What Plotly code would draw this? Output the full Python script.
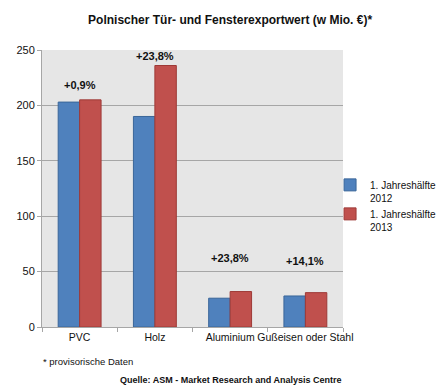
import plotly.graph_objects as go

categories = ["PVC", "Holz", "Aluminium", "Gußeisen oder Stahl"]
values_2012 = [203, 190, 26, 28]
values_2013 = [205, 236, 32, 31]
change_labels = ["+0,9%", "+23,8%", "+23,8%", "+14,1%"]
label_y = [218, 245, 62, 60]
series_names = ["1. Jahreshälfte<br>2012", "1. Jahreshälfte<br>2013"]
y_ticks = [0, 50, 100, 150, 200, 250]

blue = "#4f81bd"
red = "#c0504d"
font_main = "Liberation Sans"

fig = go.Figure()
fig.add_trace(go.Bar(x=categories, y=values_2012, name=series_names[0],
                     marker=dict(color=blue, line=dict(color="#3a6699", width=1))))
fig.add_trace(go.Bar(x=categories, y=values_2013, name=series_names[1],
                     marker=dict(color=red, line=dict(color="#9e3a37", width=1))))

for cat, txt, yy in zip(categories, change_labels, label_y):
    fig.add_annotation(x=cat, y=yy, text="<b>" + txt + "</b>", showarrow=False,
                       font=dict(size=11, color="#111111", family=font_main))

fig.add_annotation(xref="paper", yref="paper", x=-0.003, y=-0.15, xanchor="left",
                   text="* provisorische Daten", showarrow=False,
                   font=dict(size=9.5, color="#111111", family=font_main))
fig.add_annotation(xref="paper", yref="paper", x=0.625, y=-0.217, xanchor="center",
                   text="<b>Quelle: ASM - Market Research and Analysis Centre</b>", showarrow=False,
                   font=dict(size=9, color="#111111", family=font_main))

fig.update_layout(
    width=436, height=377,
    margin=dict(l=34, r=101, t=42, b=58, autoexpand=False),
    paper_bgcolor="white",
    plot_bgcolor="#e6e6e6",
    barmode="group",
    bargap=0.43,
    bargroupgap=0,
    title=dict(text="<b>Polnischer Tür- und Fensterexportwert (w Mio. €)*</b>",
               xref="paper", x=0.625, xanchor="center", y=0.968, yanchor="middle",
               font=dict(size=12, color="#111111", family=font_main)),
    font=dict(family=font_main, size=11, color="#111111"),
    legend=dict(x=0.957, y=0.56, xanchor="left", yanchor="top",
                font=dict(size=10, family=font_main, color="#111111"),
                bgcolor="rgba(0,0,0,0)", valign="top", itemwidth=30,
                tracegroupgap=6),
    showlegend=True,
)
fig.update_yaxes(range=[0, 250], tickvals=y_ticks, showgrid=True, gridcolor="#a6a6a6",
                 gridwidth=1, showline=True, linecolor="#a6a6a6", ticks="outside",
                 ticklen=4, tickcolor="#a6a6a6", zeroline=False, automargin=False,
                 tickfont=dict(size=11, color="#111111"))
fig.update_xaxes(showline=True, linecolor="#a6a6a6", ticks="outside", tickson="boundaries",
                 ticklen=4, tickcolor="#a6a6a6", showgrid=False, tickangle=0, automargin=False,
                 tickfont=dict(size=10.5, color="#111111"))

fig.write_html("out.html")
